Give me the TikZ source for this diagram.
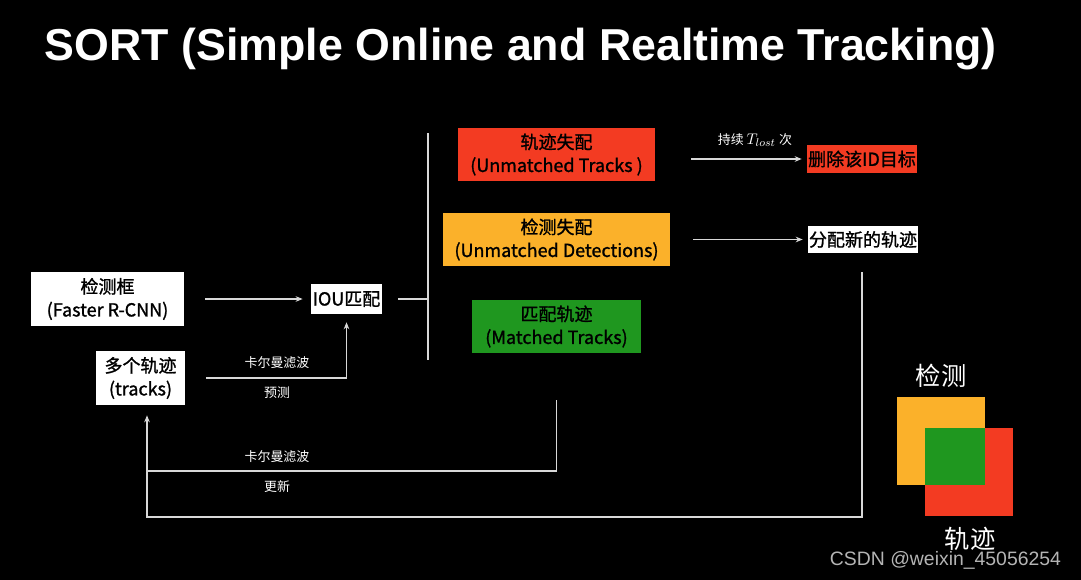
\documentclass[tikz,border=0pt]{standalone}
\usepackage{fontspec}
\setmainfont{Liberation Sans}
\newfontfamily\cjk{Noto Sans CJK SC}
\newfontfamily\cjkmid[FakeBold=1.2]{Noto Sans CJK SC}
\usetikzlibrary{calc, arrows.meta, positioning}
\definecolor{cred}{HTML}{F33B22}
\definecolor{corange}{HTML}{FBB12A}
\definecolor{cgreen}{HTML}{1F971F}
\definecolor{cline}{HTML}{D8D8D8}
\definecolor{cmark}{HTML}{B4B4B4}

\tikzset{
    box/.style={draw=none, fill=white, align=center, inner sep=0pt, text=black,
        font=\fontsize{12.8}{16.5}\selectfont\cjkmid},
    flow/.style={draw=cline, line width=0.9pt},
    flowarrow/.style={flow, -{Stealth[length=5pt, width=4pt]}},
    lbl/.style={text=white, font=\fontsize{9.2}{11}\selectfont\cjk, inner sep=0pt}
}

\begin{document}
\begin{tikzpicture}[x=0.025cm, y=-0.025cm]
    \fill[black] (0,0) rectangle (1081,580);
    \useasboundingbox (0,0) rectangle (1081,580);
    \node (title) [anchor=west, text=white, font=\fontsize{31.8}{36}\selectfont\bfseries] at (40,49) {SORT (Simple Online and Realtime Tracking)};
    \node (det) [box, minimum width=3.83cm, minimum height=1.35cm] at (107.5,299) {检测框\\(Faster R-CNN)};
    \node (trk) [box, minimum width=2.23cm, minimum height=1.35cm] at (140.5,378) {多个轨迹\\(tracks)};
    \node (iou) [box, minimum width=1.78cm, minimum height=0.75cm] at (346.5,299) {IOU匹配};
    \node (unt) [box, fill=cred, minimum width=4.93cm, minimum height=1.33cm] at (556.5,154.5) {轨迹失配\\(Unmatched Tracks )};
    \node (und) [box, fill=corange, minimum width=5.68cm, minimum height=1.33cm] at (556.5,239.5) {检测失配\\(Unmatched Detections)};
    \node (mat) [box, fill=cgreen, minimum width=4.23cm, minimum height=1.33cm] at (556.5,326.5) {匹配轨迹\\(Matched Tracks)};
    \node (del) [box, fill=cred, minimum width=2.75cm, minimum height=0.7cm] at (862,159) {删除该ID目标};
    \node (new) [box, minimum width=2.75cm, minimum height=0.68cm] at (863,239.5) {分配新的轨迹};
    \coordinate (bartop) at (428,133);
    \coordinate (barbot) at (428,360);
    \coordinate (loop) at (147,517);
    \coordinate (upd) at (147,471);
    \coordinate (lostfrom) at ($(unt.east)+(36,0)$);
    \draw[flowarrow, shorten <=21pt*0.709, shorten >=8pt*0.709] (det) -- (iou);
    \draw[flowarrow, shorten >=8pt*0.709] ($(trk.east)+(21,0)$) -| (iou.south);
    \draw[flow] ($(iou.east)+(16,0)$) -- (iou.east -| bartop);
    \draw[flow] (bartop) -- (barbot);
    \draw[flowarrow] (lostfrom |- del.west) -- ($(del.west)+(-5,0)$);
    \draw[flowarrow] ($(und.east)+(23,0)$) -- ($(new.west)+(-5,0)$);
    \draw[flow] ($(mat.south)+(0,47)$) |- (upd);
    \draw[flowarrow] ($(new.south -| loop)+(715,19)$) |- (loop) -- ($(loop |- trk.south)+(0,10)$);
    \node (tlost) [lbl, font=\fontsize{9.2}{11}\selectfont\cjk] at (755,140) {持续 \fontsize{11}{12}\selectfont$T_{lost}$ \fontsize{9.2}{11}\selectfont 次};
    \node (kf1) [lbl] at (277,363) {卡尔曼滤波};
    \node (pred) [lbl] at (277,393) {预测};
    \node (kf2) [lbl] at (277,457) {卡尔曼滤波};
    \node (upd2) [lbl] at (277,487) {更新};
    \fill[corange] (897,397) rectangle (985,485);
    \fill[cred] (925,428) rectangle (1013,516);
    \fill[cgreen] (925,428) rectangle (985,485);
    \node (sqdet) [text=white, font=\fontsize{18}{20}\selectfont\cjk] at (941,376) {检测};
    \node (sqtrk) [text=white, font=\fontsize{18}{20}\selectfont\cjk] at (970,539) {轨迹};
    \node (mark) [anchor=east, text=cmark, font=\fontsize{13.8}{16}\selectfont] at (1066,560) {CSDN @weixin\_45056254};
\end{tikzpicture}
\end{document}
